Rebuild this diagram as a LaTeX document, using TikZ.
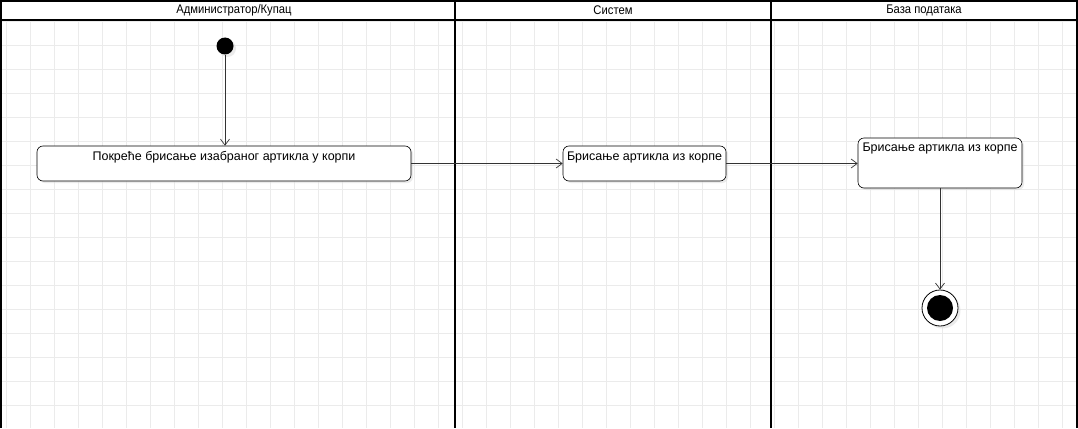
\documentclass[tikz,border=0pt]{standalone}
\usepackage{fontspec}
\setmainfont{Liberation Sans}
\newfontfamily\hdrfont[FakeStretch=0.9]{Liberation Sans}
\usetikzlibrary{arrows.meta,shadows}
\definecolor{gridc}{HTML}{EBEBEB}
\definecolor{shadowc}{HTML}{D8D8D8}
\tikzset{
  lane/.style={draw=black, line width=1.6pt},
  hdr/.style={font=\hdrfont\fontsize{12.5}{14}\selectfont, anchor=center},
  act/.style={draw=black, line width=0.6pt, rounded corners=6pt, fill=white,
    drop shadow={shadow xshift=2pt, shadow yshift=-2pt, fill=shadowc, opacity=0.5},
    inner sep=0pt},
  acttext/.style={anchor=center, font=\fontsize{12.5}{14}\selectfont, inner sep=0pt},
  flow/.style={draw=black!80, line width=0.6pt, -{Straight Barb[length=6pt,width=9pt,line width=0.7pt]}},
}
\begin{document}
\begin{tikzpicture}[x=1pt,y=-1pt]
\useasboundingbox (0,0) rectangle (1078,428);
\fill[white] (0,0) rectangle (1078,428);
% grid
\begin{scope}
\clip (1,20) rectangle (1078,428);
\foreach \i in {0,...,45} \draw[gridc, line width=0.6pt] (6.7+24*\i,20) -- (6.7+24*\i,428);
\foreach \j in {0,...,17} \draw[gridc, line width=0.6pt] (1,21+24*\j) -- (1078,21+24*\j);
\end{scope}
% pool
\draw[lane] (1,428) -- (1,1) -- (1077,1) -- (1077,428);
\draw[lane] (1,20) -- (1077,20);
\draw[lane] (455,1) -- (455,428);
\draw[lane] (771,1) -- (771,428);
\node[hdr] (h1) at (234,10.5) {Администратор/Купац};
\node[hdr] (h2) at (613,10.5) {Систем};
\node[hdr] (h3) at (924,10.5) {База података};
% start
\fill[shadowc, opacity=0.5] (227.5,48.5) circle (8.5);
\node[circle, fill=black, minimum size=17pt, inner sep=0pt] (start) at (225,46) {};
% activities
\node[act, minimum width=374pt, minimum height=35pt] (a1) at (224,163.5) {};
\node[acttext] (t1) at (a1.center) [yshift=6.5pt] {Покреће брисање изабраног артикла у корпи};
\node[act, minimum width=163pt, minimum height=35pt] (a2) at (644.5,163.5) {};
\node[acttext] (t2) at (a2.center) [yshift=6.5pt] {Брисање артикла из корпе};
\node[act, minimum width=164pt, minimum height=50pt] (a3) at (940,163) {};
\node[acttext] (t3) at (a3.center) [yshift=14.5pt] {Брисање артикла из корпе};
% end
\fill[shadowc, opacity=0.5] (942.5,310.5) circle (18);
\node[circle, draw=black, fill=white, line width=0.8pt, minimum size=36pt, inner sep=0pt] (end) at (940,308) {};
\fill[black] (end.center) circle (13);
% flows
\draw[flow] (start) -- (start |- a1.north);
\draw[flow] (a1.east) -- (a2.west);
\draw[flow] (a2.east) -- (a2.east -| a3.west);
\draw[flow] (a3.south) -- (end.north);
\end{tikzpicture}
\end{document}
